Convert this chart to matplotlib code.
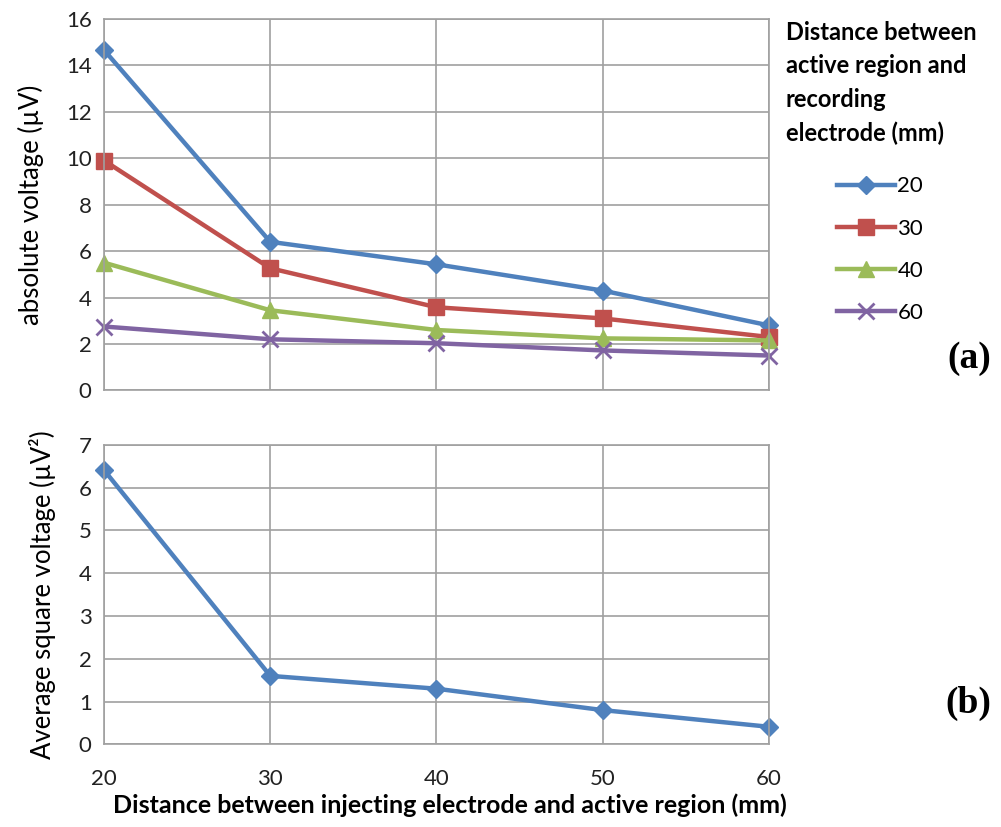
import matplotlib.pyplot as plt

plt.rcParams['font.family'] = ['Lato', 'DejaVu Sans']

distance = [20, 30, 40, 50, 60]
rec_labels = ['20', '30', '40', '60']
abs_20 = [14.66, 6.4, 5.43, 4.3, 2.8]
abs_30 = [9.9, 5.26, 3.58, 3.1, 2.3]
abs_40 = [5.5, 3.45, 2.6, 2.24, 2.15]
abs_60 = [2.75, 2.2, 2.03, 1.72, 1.5]
sq_volt = [6.41, 1.6, 1.3, 0.8, 0.41]

colors = ['#4F81BD', '#C0504D', '#9BBB59', '#8064A2']
markers = ['D', 's', '^', 'x']
msizes = [9, 12, 11, 12]

fig = plt.figure(figsize=(10.01, 8.27), dpi=100)
ax1 = fig.add_axes([0.104, 0.528, 0.664, 0.449])
ax2 = fig.add_axes([0.104, 0.100, 0.664, 0.362])


def style(ax):
    ax.grid(True, color='#a0a0a0', linewidth=1.2)
    ax.set_axisbelow(True)
    for s in ax.spines.values():
        s.set_color('#a0a0a0')
        s.set_linewidth(1.2)
    ax.tick_params(length=0, labelsize=16, colors='#222222', pad=9)
    ax.set_xlim(20, 60)
    ax.set_xticks(distance)


for vals, c, m, ms, lab in zip([abs_20, abs_30, abs_40, abs_60], colors,
                               markers, msizes, rec_labels):
    ax1.plot(distance, vals, color=c, marker=m, markersize=ms, linewidth=3.2,
             markeredgewidth=2 if m == 'x' else 1, label=lab, clip_on=False)
style(ax1)
ax1.set_ylim(0, 16)
ax1.set_yticks(range(0, 17, 2))
ax1.tick_params(axis='x', labelbottom=False)
ax1.set_ylabel('absolute voltage (µV)', fontsize=18.5, labelpad=16)
leg = ax1.legend(loc='upper left', bbox_to_anchor=(1.09, 0.60), frameon=False,
                 fontsize=16, handlelength=2.6, labelspacing=1.0,
                 handletextpad=0.1, borderaxespad=0)
fig.text(0.785, 0.975, 'Distance between\nactive region and\nrecording\nelectrode (mm)',
         fontsize=17, fontweight='bold', va='top', ha='left', linespacing=1.55)
fig.text(0.99, 0.555, '(a)', fontsize=27, fontweight='bold', ha='right',
         family='Liberation Serif')

ax2.plot(distance, sq_volt, color=colors[0], marker='D', markersize=9,
         linewidth=3.2, clip_on=False)
style(ax2)
ax2.set_ylim(0, 7)
ax2.set_yticks(range(0, 8))
ax2.tick_params(axis='x', pad=18)
ax2.set_ylabel('Average square voltage (µV²)', fontsize=18.5, labelpad=16)
ax2.set_xlabel('Distance between injecting electrode and active region (mm)',
               fontsize=18, fontweight='bold', labelpad=6)
ax2.xaxis.set_label_coords(0.52, -0.165)
fig.text(0.99, 0.138, '(b)', fontsize=27, fontweight='bold', ha='right',
         family='Liberation Serif')

plt.savefig('out.png', dpi=100)
